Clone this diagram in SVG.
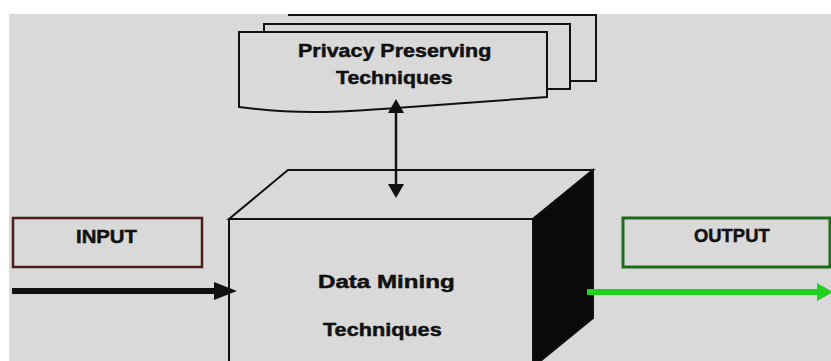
<svg xmlns="http://www.w3.org/2000/svg" width="831" height="361" viewBox="0 0 831 361">
  <defs>
    <style>
      .lbl { font-family: "Liberation Sans", Arial, sans-serif; font-weight: bold; font-size: 19px; fill: #111; stroke: #111; stroke-width: 0.5; }
      .shape { fill: #d9d9d9; stroke: #111; stroke-width: 2; stroke-linejoin: miter; }
    </style>
  </defs>
  <rect x="0" y="0" width="831" height="361" fill="#ffffff"/>
  <rect x="9" y="14" width="822" height="347" fill="#d9d9d9"/>

  <g id="privacy">
    <path class="shape" d="M288,15 H596 V81 H570"/>
    <path class="shape" d="M264,89 V24 H570 V89 H547"/>
    <path class="shape" d="M239,107 V32 H547 V97 C500,100 450,104 396,108 C340,112 300,115 239,107 Z"/>
    <text class="lbl" transform="translate(298,57) scale(1.13,1)">Privacy Preserving</text>
    <text class="lbl" transform="translate(336,84) scale(1.12,1)">Techniques</text>
  </g>

  <g id="datamining">
    <polygon class="shape" points="229,219 288,170 593,170 533,219"/>
    <rect class="shape" x="229" y="219" width="304" height="150"/>
    <polygon points="533,219 593,170 593,318 533,367" fill="#0a0a0a" stroke="#111" stroke-width="2"/>
    <text class="lbl" transform="translate(318,288) scale(1.27,1)">Data Mining</text>
    <text class="lbl" transform="translate(323,336) scale(1.14,1)">Techniques</text>
  </g>

  <g id="input">
    <rect x="13" y="218" width="189" height="49" fill="#d9d9d9" stroke="#4a1c1c" stroke-width="2.5"/>
    <text class="lbl" transform="translate(76,243) scale(1.07,1)">INPUT</text>
  </g>

  <g id="output">
    <rect x="623" y="218" width="207" height="49" fill="#d9d9d9" stroke="#1d6a1d" stroke-width="3"/>
    <text class="lbl" transform="translate(694,242) scale(0.97,1)">OUTPUT</text>
  </g>

  <g id="connectors">
    <line x1="396" y1="112" x2="396" y2="186" stroke="#111" stroke-width="2.5"/>
    <polygon points="396,99 388,113 404,113" fill="#111"/>
    <polygon points="396,198 388,184 404,184" fill="#111"/>
    <line x1="12" y1="291" x2="216" y2="291" stroke="#111" stroke-width="6"/>
    <polygon points="237,291 214,282 214,300" fill="#111"/>
    <line x1="587" y1="292" x2="819" y2="292" stroke="#22d022" stroke-width="6"/>
    <polygon points="833,292 817,283 817,301" fill="#22d022"/>
  </g>
</svg>
